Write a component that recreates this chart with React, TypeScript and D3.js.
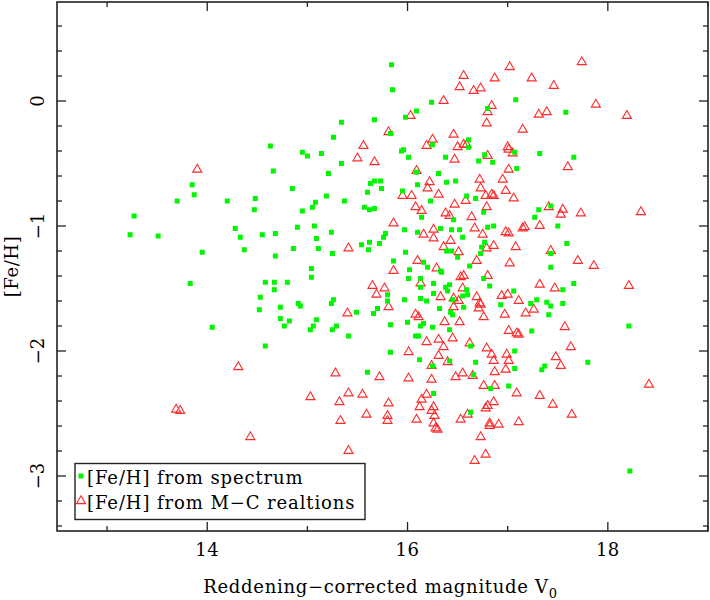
import { useEffect, useRef } from 'react'
import * as d3 from 'd3'

// [V0, [Fe/H]]
const spectrumStars: [number, number][] = [
  [15.84, 0.29], [15.85, 0.09], [16.24, -0.01], [17.08, 0.01], [16.09, -0.08], [15.98, -0.13],
  [17.58, -0.09], [16.80, -0.06], [15.34, -0.17], [15.67, -0.15], [15.83, -0.26], [15.26, -0.29],
  [14.63, -0.36], [16.61, -0.31], [16.25, -0.35], [16.61, -0.37], [15.94, -0.40], [15.96, -0.39],
  [14.95, -0.41], [15.00, -0.44], [15.14, -0.42], [16.01, -0.45], [16.38, -0.45], [16.77, -0.43],
  [17.07, -0.41], [17.32, -0.42], [17.66, -0.45], [16.71, -0.48], [16.85, -0.49], [17.09, -0.54],
  [15.34, -0.50], [14.66, -0.56], [16.09, -0.57], [15.21, -0.58], [16.31, -0.58], [16.48, -0.64],
  [16.39, -0.65], [16.10, -0.67], [15.67, -0.64], [15.73, -0.64], [15.63, -0.66], [14.85, -0.70],
  [15.74, -0.70], [15.60, -0.73], [15.95, -0.72], [13.85, -0.67], [13.87, -0.75], [13.70, -0.80],
  [14.20, -0.80], [14.48, -0.78], [14.47, -0.87], [15.19, -0.76], [15.37, -0.80], [15.08, -0.81],
  [15.05, -0.85], [14.95, -0.88], [15.57, -0.85], [15.62, -0.87], [15.67, -0.86], [16.23, -0.80],
  [16.59, -0.76], [16.68, -0.78], [16.76, -0.89], [17.31, -0.87], [17.43, -0.84], [17.27, -0.93],
  [16.14, -0.93], [16.46, -0.95], [13.27, -0.92], [13.23, -1.07], [13.51, -1.08], [14.28, -1.02],
  [14.33, -1.09], [14.37, -1.19], [14.55, -1.07], [14.68, -1.06], [14.90, -1.01], [15.07, -1.00],
  [15.09, -1.10], [15.11, -1.18], [15.24, -1.05], [15.25, -1.22], [14.68, -1.24], [14.86, -1.18],
  [13.95, -1.21], [15.54, -1.15], [15.62, -1.13], [15.61, -1.19], [15.78, -1.06], [15.76, -1.09],
  [15.72, -1.14], [15.97, -1.03], [16.10, -1.05], [15.98, -1.21], [16.33, -1.02], [16.44, -1.03],
  [16.52, -1.03], [16.55, -1.09], [16.80, -1.01], [16.86, -1.00], [16.77, -1.13], [16.74, -1.17],
  [16.73, -1.22], [17.50, -1.00], [17.59, -1.14], [17.43, -1.22], [17.43, -1.33], [16.39, -1.20],
  [16.44, -1.20], [16.50, -1.25], [15.86, -1.28], [16.16, -1.29], [16.20, -1.33], [16.33, -1.36],
  [16.34, -1.37], [16.62, -1.32], [15.04, -1.34], [15.04, -1.41], [16.02, -1.35], [16.01, -1.42],
  [16.13, -1.42], [13.83, -1.46], [14.58, -1.45], [14.67, -1.45], [14.80, -1.45], [14.67, -1.51],
  [14.53, -1.57], [14.52, -1.67], [14.73, -1.65], [14.91, -1.62], [14.93, -1.64], [15.26, -1.59],
  [15.24, -1.62], [14.73, -1.74], [14.82, -1.76], [14.77, -1.80], [15.09, -1.75], [15.06, -1.80],
  [15.03, -1.83], [15.25, -1.83], [15.29, -1.80], [15.41, -1.88], [14.58, -1.96], [14.05, -1.81],
  [15.49, -1.69], [15.66, -1.70], [15.70, -1.66], [15.80, -1.55], [15.80, -1.60], [15.83, -1.79],
  [15.83, -2.01], [15.60, -2.17], [15.97, -1.59], [16.00, -1.77], [16.08, -1.88], [16.11, -1.88],
  [16.13, -1.80], [16.16, -1.78], [16.13, -1.58], [16.13, -1.49], [16.12, -2.07], [16.19, -1.60],
  [16.26, -1.46], [16.26, -1.54], [16.25, -1.81], [16.26, -2.34], [16.25, -2.12], [16.32, -1.66],
  [16.38, -1.49], [16.40, -1.52], [16.42, -1.47], [16.45, -1.59], [16.43, -1.69], [16.45, -1.71],
  [16.42, -1.83], [16.42, -2.08], [16.56, -1.65], [16.55, -1.56], [16.60, -1.55], [16.59, -1.51],
  [16.63, -2.49], [16.63, -1.96], [16.66, -2.19], [16.68, -2.09], [16.76, -1.42], [16.82, -1.48],
  [16.83, -2.30], [16.93, -1.63], [17.01, -2.28], [17.06, -1.52], [17.07, -2.00], [17.07, -2.14],
  [17.24, -1.84], [17.23, -1.62], [17.29, -1.59], [17.39, -1.61], [17.43, -1.64], [17.41, -1.71],
  [17.55, -1.51], [17.55, -1.62], [17.66, -1.46], [17.34, -2.15], [17.37, -2.12], [17.80, -2.09],
  [18.21, -1.80], [18.22, -2.96],
]

const relationStars: [number, number][] = [
  [17.74, 0.32], [17.02, 0.28], [16.56, 0.21], [17.24, 0.19], [16.87, 0.19], [17.46, 0.13],
  [16.52, 0.12], [16.73, 0.11], [16.66, 0.09], [16.36, 0.01], [17.88, -0.02], [16.84, -0.03],
  [17.31, -0.10], [17.39, -0.08], [18.19, -0.11], [16.80, -0.08], [16.03, -0.11], [16.79, -0.17],
  [17.15, -0.22], [15.81, -0.24], [16.46, -0.26], [16.25, -0.30], [16.19, -0.35], [16.56, -0.34],
  [16.59, -0.34], [16.50, -0.36], [15.56, -0.35], [17.00, -0.36], [17.01, -0.38], [17.05, -0.41],
  [15.50, -0.45], [16.47, -0.46], [15.67, -0.48], [16.80, -0.43], [13.90, -0.54], [16.09, -0.55],
  [17.01, -0.54], [17.60, -0.52], [16.72, -0.62], [16.95, -0.62], [16.22, -0.64], [16.20, -0.69],
  [16.73, -0.69], [16.98, -0.71], [16.31, -0.74], [15.95, -0.75], [16.04, -0.75], [16.84, -0.74],
  [16.86, -0.75], [16.78, -0.75], [17.06, -0.77], [16.58, -0.79], [16.47, -0.82], [16.79, -0.84],
  [17.41, -0.84], [17.55, -0.86], [17.53, -0.90], [17.73, -0.89], [18.33, -0.88], [16.08, -0.84],
  [16.14, -0.87], [16.38, -0.89], [16.42, -0.91], [16.64, -0.92], [15.86, -0.97], [16.67, -1.01],
  [17.15, -1.01], [17.17, -1.00], [17.32, -0.99], [16.26, -1.02], [16.16, -1.06], [16.75, -1.06],
  [16.98, -1.04], [17.01, -1.05], [16.26, -1.09], [16.43, -1.11], [16.36, -1.16], [16.86, -1.15],
  [17.08, -1.16], [15.41, -1.17], [16.51, -1.20], [16.79, -1.17], [17.43, -1.19], [16.69, -1.27],
  [16.10, -1.27], [17.02, -1.29], [17.70, -1.27], [17.86, -1.31], [16.29, -1.33], [15.86, -1.35],
  [16.80, -1.39], [16.56, -1.39], [16.53, -1.40], [16.13, -1.45], [17.32, -1.46], [17.47, -1.49],
  [18.21, -1.47], [15.65, -1.47], [15.77, -1.49], [16.55, -1.49], [15.69, -1.54], [16.33, -1.56],
  [16.46, -1.57], [16.94, -1.55], [17.00, -1.54], [16.69, -1.56], [16.72, -1.61], [16.73, -1.62],
  [17.11, -1.59], [15.81, -1.64], [16.46, -1.64], [16.71, -1.65], [16.51, -1.59], [15.40, -1.69],
  [16.08, -1.70], [16.11, -1.72], [16.97, -1.70], [17.18, -1.69], [17.26, -1.66], [16.76, -1.72],
  [16.37, -1.76], [16.52, -1.76], [17.57, -1.80], [17.01, -1.83], [17.09, -1.85], [17.11, -1.86],
  [16.19, -1.92], [16.31, -1.90], [16.45, -1.89], [16.62, -1.93], [16.36, -1.96], [16.79, -1.97],
  [17.63, -1.96], [16.01, -2.00], [16.84, -2.02], [16.99, -2.02], [16.31, -2.03], [17.48, -2.04],
  [16.86, -2.07], [17.01, -2.07], [16.40, -2.08], [17.53, -2.11], [14.31, -2.12], [16.24, -2.11],
  [16.98, -2.14], [16.87, -2.16], [15.28, -2.17], [16.55, -2.17], [15.72, -2.20], [16.01, -2.21],
  [16.48, -2.20], [16.65, -2.19], [16.24, -2.22], [18.41, -2.26], [16.76, -2.27], [16.87, -2.27],
  [15.03, -2.36], [15.41, -2.33], [15.55, -2.34], [16.19, -2.34], [17.09, -2.33], [17.32, -2.35],
  [16.14, -2.38], [15.32, -2.40], [15.81, -2.41], [16.86, -2.40], [16.12, -2.44], [16.26, -2.44],
  [16.78, -2.45], [17.45, -2.42], [16.80, -2.43], [16.24, -2.47], [13.69, -2.46], [13.73, -2.47],
  [15.59, -2.50], [17.64, -2.50], [16.27, -2.51], [16.60, -2.50], [15.80, -2.51], [16.53, -2.54],
  [15.33, -2.55], [15.80, -2.55], [16.09, -2.54], [16.26, -2.57], [16.82, -2.57], [17.11, -2.56],
  [16.91, -2.58], [16.82, -2.59], [16.28, -2.61], [16.30, -2.62], [14.43, -2.68], [16.73, -2.68],
  [15.41, -2.79], [16.78, -2.82], [16.67, -2.87],
]

const xMajorTicks = [14, 16, 18]
const xMinorTicks = [13, 15, 17, 19]
const yMajorTicks = [0, -1, -2, -3]

const W = 710
const H = 600
const FONT = '"DejaVu Serif", serif'
const GREEN = '#00f500'
const RED = '#ff2a2a'

export default function App() {
  const svgRef = useRef<SVGSVGElement>(null)

  useEffect(() => {
    const svg = d3.select(svgRef.current)
    svg.selectAll('*').remove()

    const left = 57, right = 708, top = 2, bottom = 531

    const x = d3.scaleLinear().domain([12.5, 19]).range([left, right])
    const y = d3.scaleLinear().domain([-3.44, 0.792]).range([bottom, top])

    // minor y ticks every 0.2
    const yMinor = d3.range(-17, 4).map(d => d / 5).filter(d => !yMajorTicks.includes(d))

    // frame
    svg.append('rect')
      .attr('x', left).attr('y', top)
      .attr('width', right - left).attr('height', bottom - top)
      .attr('fill', 'white').attr('stroke', '#222').attr('stroke-width', 1.6)

    const ticks = svg.append('g').attr('stroke', '#222').attr('stroke-width', 1.3)
    const xt = [...xMajorTicks.map(v => ({ v, len: 9 })), ...xMinorTicks.map(v => ({ v, len: 5 }))]
    xt.forEach(t => {
      ticks.append('line').attr('x1', x(t.v)).attr('x2', x(t.v)).attr('y1', bottom).attr('y2', bottom - t.len)
      ticks.append('line').attr('x1', x(t.v)).attr('x2', x(t.v)).attr('y1', top).attr('y2', top + t.len)
    })
    const yt = [...yMajorTicks.map(v => ({ v, len: 9 })), ...yMinor.map(v => ({ v, len: 5 }))]
    yt.forEach(t => {
      ticks.append('line').attr('y1', y(t.v)).attr('y2', y(t.v)).attr('x1', left).attr('x2', left + t.len)
      ticks.append('line').attr('y1', y(t.v)).attr('y2', y(t.v)).attr('x1', right).attr('x2', right - t.len)
    })

    // tick labels
    svg.append('g').selectAll('text')
      .data(xMajorTicks)
      .join('text')
      .attr('x', d => x(d)).attr('y', 556)
      .attr('text-anchor', 'middle')
      .style('font-family', FONT).style('font-size', '18px').style('letter-spacing', '0.5px')
      .text(d => d3.format('d')(d))

    svg.append('g').selectAll('text')
      .data(yMajorTicks)
      .join('text')
      .attr('transform', d => `translate(44,${y(d)}) rotate(-90)`)
      .attr('text-anchor', 'middle')
      .style('font-family', FONT).style('font-size', '18px')
      .text(d => (d < 0 ? '\u2212' + Math.abs(d) : String(d)))

    // axis titles
    const xl = svg.append('text')
      .attr('x', (left + right) / 2 - 2).attr('y', 593)
      .attr('text-anchor', 'middle')
      .style('font-family', FONT).style('font-size', '18px').style('letter-spacing', '0.7px')
    xl.append('tspan').text('Reddening\u2212corrected magnitude V')
    xl.append('tspan').attr('dy', 5).style('font-size', '13px').text('0')

    svg.append('text')
      .attr('transform', `translate(18,${(top + bottom) / 2}) rotate(-90)`)
      .attr('text-anchor', 'middle')
      .style('font-family', FONT).style('font-size', '18px').style('letter-spacing', '0.6px')
      .text('[Fe/H]')

    const tri = d3.symbol().type(d3.symbolTriangle).size(36)

    // M-C relation points
    svg.append('g').selectAll('path')
      .data(relationStars)
      .join('path')
      .attr('d', tri)
      .attr('transform', d => `translate(${x(d[0])},${y(d[1]) + 1})`)
      .attr('fill', 'none').attr('stroke', RED).attr('stroke-width', 1.1)

    // spectrum points
    svg.append('g').selectAll('rect')
      .data(spectrumStars)
      .join('rect')
      .attr('x', d => x(d[0]) - 2.5).attr('y', d => y(d[1]) - 2.5)
      .attr('width', 5).attr('height', 5)
      .attr('fill', GREEN)

    // legend
    const lg = svg.append('g')
    lg.append('rect')
      .attr('x', 75).attr('y', 463.5).attr('width', 290).attr('height', 56)
      .attr('fill', 'white').attr('stroke', '#222').attr('stroke-width', 1.4)
    lg.append('rect').attr('x', 78.5).attr('y', 473.5).attr('width', 5).attr('height', 5).attr('fill', GREEN)
    lg.append('path').attr('d', tri).attr('transform', 'translate(81,501)')
      .attr('fill', 'none').attr('stroke', RED).attr('stroke-width', 1.1)
    lg.append('text').attr('x', 87).attr('y', 484)
      .style('font-family', FONT).style('font-size', '18px').style('letter-spacing', '0.9px')
      .text('[Fe/H] from spectrum')
    lg.append('text').attr('x', 87).attr('y', 509)
      .style('font-family', FONT).style('font-size', '18px').style('letter-spacing', '0.9px')
      .text('[Fe/H] from M\u2212C realtions')
  }, [])

  return (
    <svg
      ref={svgRef}
      width={W}
      height={H}
      style={{ position: 'absolute', left: 0, top: 0, background: 'white' }}
    />
  )
}
